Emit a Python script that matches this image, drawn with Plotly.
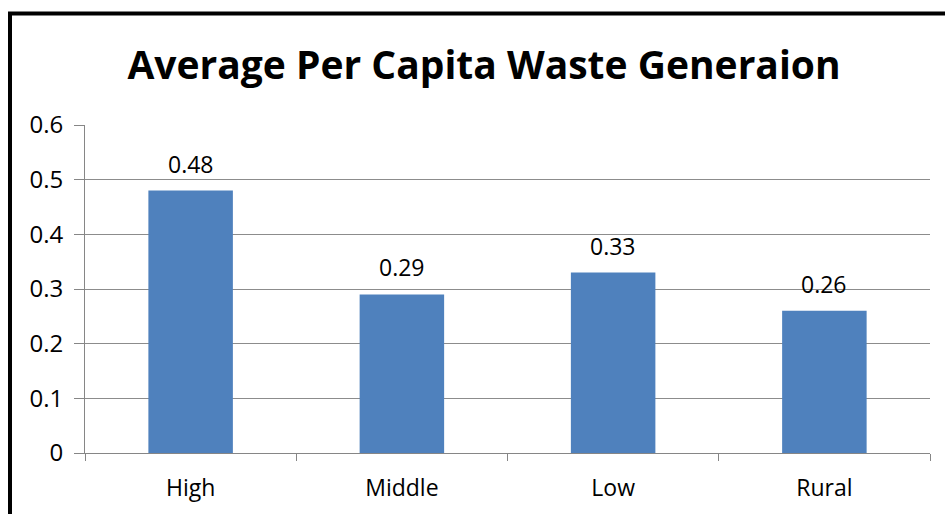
import plotly.graph_objects as go

categories = ["High", "Middle", "Low", "Rural"]
values = [0.48, 0.29, 0.33, 0.26]
value_labels = ["0.48", "0.29", "0.33", "0.26"]
y_ticks = [0, 0.1, 0.2, 0.3, 0.4, 0.5, 0.6]
y_tick_labels = ["0", "0.1", "0.2", "0.3", "0.4", "0.5", "0.6"]

W, H = 945, 514
ml, mr, mt, mb = 85, 15, 125, 61
pw = W - ml - mr
ph = H - mt - mb
FONT = "Open Sans"

fig = go.Figure(go.Bar(
    x=categories, y=values,
    marker=dict(color="#4F81BD", line=dict(width=0)),
    hoverinfo="x+y",
))

for c, v, t in zip(categories, values, value_labels):
    fig.add_annotation(x=c, y=v, text=t, showarrow=False, xref="x", yref="y",
                       yanchor="middle", yshift=27,
                       font=dict(family=FONT, size=23, color="#000000"))

def px_to_paper_x(px):
    return (px - ml) / pw

def px_to_paper_y(py):
    return (H - mb - py) / ph

fig.update_layout(
    width=W, height=H,
    margin=dict(l=ml, r=mr, t=mt, b=mb),
    paper_bgcolor="white", plot_bgcolor="white",
    bargap=0.6,
    showlegend=False,
    title=dict(text="<b>Average Per Capita Waste Generaion</b>",
               xref="container", x=484 / W, xanchor="center",
               y=1 - 65 / H, yanchor="middle",
               font=dict(family=FONT, size=39, color="#000000")),
    font=dict(family=FONT, size=23, color="#000000"),
    xaxis=dict(showline=True, linecolor="#868686", linewidth=1,
               ticks="outside", tickson="boundaries", ticklen=7, tickcolor="#868686",
               tickfont=dict(size=23), showgrid=False, ticklabelstandoff=14),
    yaxis=dict(range=[0, 0.6], tickvals=y_ticks, ticktext=y_tick_labels,
               showline=True, linecolor="#868686", linewidth=1,
               ticks="outside", ticklen=10, tickcolor="#868686",
               showgrid=True, gridcolor="#8c8c8c", gridwidth=1,
               zeroline=False, tickfont=dict(size=24), ticklabelstandoff=6),
    shapes=[
        dict(type="line", xref="paper", yref="paper",
             x0=px_to_paper_x(10), x1=px_to_paper_x(10),
             y0=px_to_paper_y(12), y1=px_to_paper_y(520),
             line=dict(color="black", width=4)),
        dict(type="line", xref="paper", yref="paper",
             x0=px_to_paper_x(8), x1=px_to_paper_x(950),
             y0=px_to_paper_y(13.5), y1=px_to_paper_y(13.5),
             line=dict(color="black", width=4)),
    ],
)

fig.write_html("out.html")
